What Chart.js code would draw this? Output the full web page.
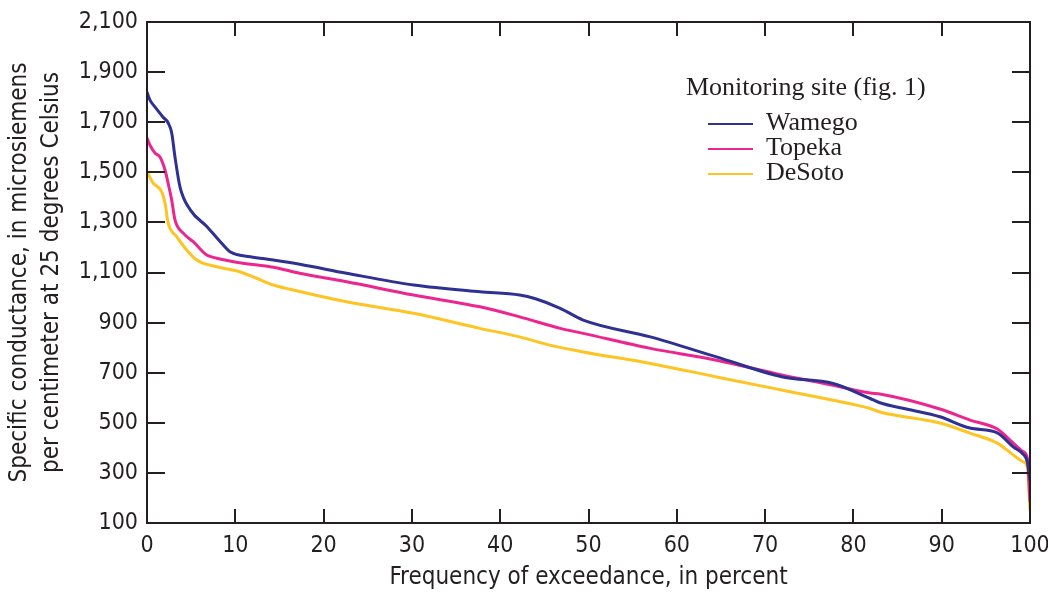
<!DOCTYPE html>
<html>
<head>
<meta charset="utf-8">
<script src="https://cdn.jsdelivr.net/npm/chart.js@4.4.1/dist/chart.umd.min.js"></script>
<style>
  html, body { margin: 0; padding: 0; background: #fff; }
  #wrap { width: 1048px; height: 592px; }
</style>
</head>
<body>
<div id="wrap"><canvas id="flow-chart"></canvas></div>
<script>
// Frequency of exceedance (percent) and specific conductance
const wamegoPct = [0, 0.34, 0.9, 1.8, 2.4, 2.8, 3.17, 3.74, 4.9, 6.8, 8.3, 9.4, 11.7, 14.3, 17.3, 22.6, 30.2, 37.7, 42.2, 44.0, 46.8, 49.4, 57.0, 64.5, 72.0, 77.7, 81.9, 83.0, 86.0, 89.8, 93.2, 96.3, 98.1, 99.2, 99.7, 100];
const wamegoSC  = [1820, 1788, 1761, 1721, 1697, 1657, 1561, 1441, 1350, 1283, 1223, 1183, 1163, 1150, 1133, 1097, 1050, 1023, 1010, 995, 957, 910, 843, 763, 683, 657, 597, 580, 555, 524, 479, 460, 404, 375, 344, 270];

const topekaPct = [0, 0.34, 0.9, 1.47, 2.04, 2.4, 2.8, 3.17, 4.1, 5.24, 6.76, 7.9, 10.5, 14.3, 17.3, 22.6, 30.2, 37.7, 42.2, 46.8, 49.4, 57.0, 64.5, 72.0, 77.7, 81.9, 83.0, 89.8, 93.2, 96.3, 98.1, 99.2, 99.7, 100];
const topekaSC  = [1637, 1608, 1577, 1561, 1509, 1455, 1389, 1310, 1257, 1223, 1170, 1157, 1139, 1121, 1097, 1063, 1010, 963, 923, 877, 857, 797, 750, 690, 650, 619, 615, 555, 511, 475, 419, 385, 359, 185];

const desotoPct = [0, 0.7, 1.66, 2.04, 2.4, 3.36, 4.49, 5.63, 7.9, 10.5, 12.4, 14.3, 16.2, 22.6, 30.2, 37.7, 42.2, 45.6, 49.4, 57.0, 64.5, 72.0, 77.7, 81.9, 83.0, 89.8, 93.2, 96.3, 98.1, 99.2, 99.7, 100];
const desotoSC  = [1503, 1457, 1423, 1377, 1297, 1243, 1190, 1150, 1123, 1103, 1077, 1050, 1033, 983, 937, 877, 843, 810, 783, 737, 683, 630, 590, 557, 543, 499, 459, 419, 372, 345, 324, 150];

const siteNames = ['Wamego', 'Topeka', 'DeSoto'];
const siteColors = ['#2e3192', '#ec268f', '#fdc423'];
const legendTitle = 'Monitoring site (fig. 1)';

const xTitle = 'Frequency of exceedance, in percent';
const yTitle = ['Specific conductance, in microsiemens', 'per centimeter at 25 degrees Celsius'];

const frameColor = '#231f20';
const axisFont = "'DejaVu Sans Condensed', 'Liberation Sans', sans-serif";

function toPoints(xs, ys) {
  return xs.map((x, i) => ({ x: x, y: ys[i] }));
}

// Frame and inward tick marks on all four sides
const frameTicks = {
  id: 'frameTicks',
  afterDatasetsDraw(chart) {
    const { ctx, chartArea: a, scales } = chart;
    ctx.save();
    ctx.strokeStyle = frameColor;
    ctx.lineWidth = 2;
    ctx.strokeRect(a.left, a.top, a.right - a.left, a.bottom - a.top);
    ctx.beginPath();
    scales.y.ticks.forEach(t => {
      const py = Math.round(scales.y.getPixelForValue(t.value));
      ctx.moveTo(a.left, py); ctx.lineTo(a.left + 18, py);
      ctx.moveTo(a.right, py); ctx.lineTo(a.right - 18, py);
    });
    scales.x.ticks.forEach(t => {
      const px = Math.round(scales.x.getPixelForValue(t.value));
      ctx.moveTo(px, a.bottom); ctx.lineTo(px, a.bottom - 14);
      ctx.moveTo(px, a.top); ctx.lineTo(px, a.top + 14);
    });
    ctx.stroke();
    ctx.restore();
  }
};

// Legend drawn inside the plot, serif like the original
const siteLegend = {
  id: 'siteLegend',
  afterDraw(chart) {
    const ctx = chart.ctx;
    ctx.save();
    ctx.font = "26px 'Liberation Serif', serif";
    ctx.fillStyle = frameColor;
    ctx.textBaseline = 'middle';
    ctx.textAlign = 'left';
    ctx.fillText(legendTitle, 686, 88);
    chart.data.datasets.forEach((ds, i) => {
      const y = 123 + i * 25;
      ctx.strokeStyle = ds.borderColor;
      ctx.lineWidth = 2;
      ctx.beginPath();
      ctx.moveTo(708, y + 1); ctx.lineTo(753, y + 1);
      ctx.stroke();
      ctx.fillStyle = frameColor;
      ctx.fillText(ds.label, 766, y);
    });
    ctx.restore();
  }
};

const series = [
  toPoints(wamegoPct, wamegoSC),
  toPoints(topekaPct, topekaSC),
  toPoints(desotoPct, desotoSC)
];

new Chart(document.getElementById('flow-chart'), {
  type: 'line',
  data: {
    datasets: series.map((pts, i) => ({
      label: siteNames[i],
      data: pts,
      borderColor: siteColors[i],
      borderWidth: 3,
      pointRadius: 0,
      cubicInterpolationMode: 'monotone',
      fill: false
    }))
  },
  options: {
    responsive: true,
    maintainAspectRatio: false,
    animation: false,
    layout: { padding: { top: 22, right: 18, left: 0, bottom: 0 } },
    plugins: { legend: { display: false }, tooltip: { enabled: false } },
    scales: {
      x: {
        type: 'linear',
        min: 0, max: 100,
        afterFit: s => { s.height = 69; s.paddingLeft = 0; s.paddingRight = 0; },
        grid: { display: false, drawTicks: false },
        border: { display: false },
        ticks: { stepSize: 10, padding: 9, color: frameColor, font: { family: axisFont, size: 23 } },
        title: { display: true, text: xTitle, color: frameColor, padding: { top: 0, bottom: 1 },
                 font: { family: axisFont, size: 24, lineHeight: 1.1 } }
      },
      y: {
        min: 100, max: 2100,
        afterFit: s => { s.width = 147; s.paddingTop = 0; s.paddingBottom = 0; },
        grid: { display: false, drawTicks: false },
        border: { display: false },
        ticks: { stepSize: 200, padding: 9, color: frameColor, font: { family: axisFont, size: 23 },
                 callback: v => v.toLocaleString('en-US') },
        title: { display: true, text: yTitle, color: frameColor, padding: { top: 4, bottom: 0 },
                 font: { family: axisFont, size: 24, lineHeight: 1.33 } }
      }
    }
  },
  plugins: [frameTicks, siteLegend]
});
</script>
</body>
</html>
